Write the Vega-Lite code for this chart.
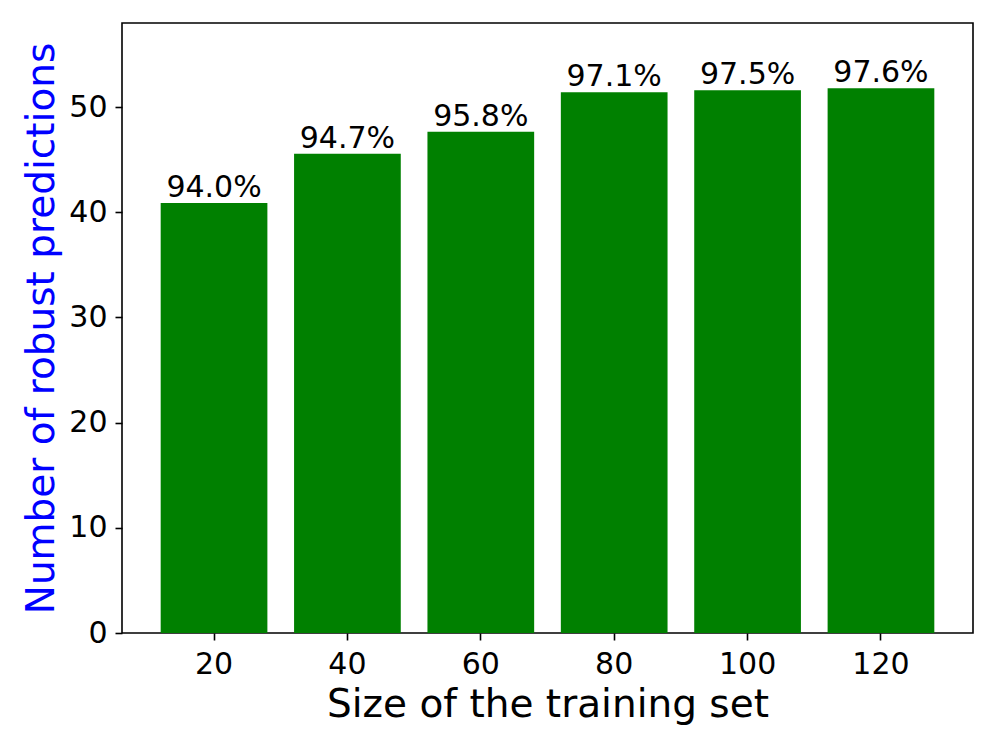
{
  "$schema": "https://vega.github.io/schema/vega-lite/v6.json",
  "autosize": {"type": "none"},
  "padding": {"left": 122, "top": 23, "right": 23, "bottom": 114},
  "width": 851,
  "height": 610,
  "background": "white",
  "config": {
    "font": "DejaVu Sans",
    "view": {"stroke": "black", "strokeWidth": 1.6},
    "axis": {"grid": false, "domain": false, "tickColor": "black", "tickWidth": 1.6, "tickSize": 7, "labelColor": "black", "labelFont": "DejaVu Sans", "labelFontSize": 30, "titleFont": "DejaVu Sans", "titleFontSize": 39, "titleFontWeight": "normal"}
  },
  "data": {
    "values": [
      {"size": "20", "robust": 40.88, "label": "94.0%"},
      {"size": "40", "robust": 45.57, "label": "94.7%"},
      {"size": "60", "robust": 47.67, "label": "95.8%"},
      {"size": "80", "robust": 51.41, "label": "97.1%"},
      {"size": "100", "robust": 51.6, "label": "97.5%"},
      {"size": "120", "robust": 51.8, "label": "97.6%"}
    ]
  },
  "encoding": {
    "x": {
      "field": "size", "type": "ordinal", "sort": null,
      "scale": {"paddingInner": 0.2, "paddingOuter": 0.29},
      "axis": {"title": "Size of the training set", "labelAngle": 0, "labelPadding": 9, "titleColor": "black", "titleBaseline": "alphabetic", "titleY": 83}
    },
    "y": {
      "field": "robust", "type": "quantitative",
      "scale": {"domain": [0, 58], "nice": false, "zero": true},
      "axis": {"title": "Number of robust predictions", "values": [0, 10, 20, 30, 40, 50], "labelPadding": 8, "titleColor": "#0000ff", "titleBaseline": "alphabetic", "titleX": -69}
    }
  },
  "layer": [
    {"mark": {"type": "bar", "color": "#008000"}},
    {"mark": {"type": "text", "baseline": "alphabetic", "align": "center", "dy": -6, "fontSize": 30, "color": "black", "font": "DejaVu Sans"},
     "encoding": {"text": {"field": "label"}}}
  ]
}
